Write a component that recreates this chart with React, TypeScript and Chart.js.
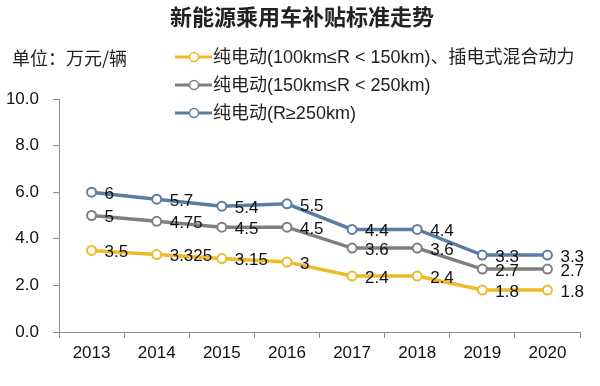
import React, { useEffect, useRef } from "react";
import { Chart, registerables } from "chart.js";

Chart.register(...registerables);

const TITLE = "新能源乘用车补贴标准走势";
const UNIT_LABEL = "单位：万元/辆";
const YEARS = ["2013", "2014", "2015", "2016", "2017", "2018", "2019", "2020"];
const SERIES_NAMES = [
  "纯电动(100km≤R < 150km)、插电式混合动力",
  "纯电动(150km≤R < 250km)",
  "纯电动(R≥250km)",
];
const BEV_100_150_PHEV = [3.5, 3.325, 3.15, 3, 2.4, 2.4, 1.8, 1.8];
const BEV_150_250 = [5, 4.75, 4.5, 4.5, 3.6, 3.6, 2.7, 2.7];
const BEV_250_PLUS = [6, 5.7, 5.4, 5.5, 4.4, 4.4, 3.3, 3.3];
const Y_MIN = 0;
const Y_MAX = 10;
const Y_STEP = 2;

const COLORS = ["#EDBB2A", "#7F7F7F", "#5B7DA3"];
const FONT = "'Liberation Sans', Arial, 'Noto Sans CJK SC', sans-serif";
const CJK_FONT = "'Noto Sans CJK SC', 'Liberation Sans', sans-serif";

const decorPlugin = {
  id: "decor",
  afterDatasetsDraw(chart: any) {
    const ctx = chart.ctx;
    ctx.save();
    // data labels
    ctx.font = `17px ${FONT}`;
    ctx.fillStyle = "#111";
    ctx.textAlign = "left";
    ctx.textBaseline = "middle";
    chart.data.datasets.forEach((ds: any, i: number) => {
      const meta = chart.getDatasetMeta(i);
      meta.data.forEach((pt: any, j: number) => {
        ctx.fillText(String(ds.data[j]), pt.x + 13, pt.y + 2);
      });
    });
    // title
    ctx.font = `bold 22px ${CJK_FONT}`;
    ctx.fillStyle = "#222";
    ctx.textAlign = "center";
    ctx.fillText(TITLE, 302, 17);
    // unit label
    ctx.font = `18px ${CJK_FONT}`;
    ctx.textAlign = "left";
    ctx.fillText(UNIT_LABEL, 12, 58);
    // legend
    const rows = [57, 85, 113];
    chart.data.datasets.forEach((ds: any, i: number) => {
      const y = rows[i];
      ctx.strokeStyle = COLORS[i];
      ctx.lineWidth = 3;
      ctx.beginPath();
      ctx.moveTo(175, y);
      ctx.lineTo(212, y);
      ctx.stroke();
      ctx.beginPath();
      ctx.arc(194, y, 4.5, 0, Math.PI * 2);
      ctx.fillStyle = "#fff";
      ctx.fill();
      ctx.lineWidth = 1.5;
      ctx.stroke();
      ctx.fillStyle = "#222";
      ctx.font = `18px ${FONT}`;
      ctx.fillText(ds.label, 213, y + 1);
    });
    ctx.restore();
  },
};

export default function App() {
  const ref = useRef<HTMLCanvasElement>(null);
  useEffect(() => {
    if (!ref.current) return;
    const series = [BEV_100_150_PHEV, BEV_150_250, BEV_250_PLUS];
    const chart = new Chart(ref.current, {
      type: "line",
      data: {
        labels: YEARS,
        datasets: series.map((d, i) => ({
          label: SERIES_NAMES[i],
          data: d,
          borderColor: COLORS[i],
          backgroundColor: "#ffffff",
          borderWidth: 3.5,
          pointRadius: 4.5,
          pointBorderWidth: 2,
          pointBorderColor: COLORS[i],
          pointBackgroundColor: "#ffffff",
          tension: 0,
        })),
      },
      options: {
        animation: false,
        responsive: false,
        layout: { padding: { top: 99, right: 20, left: 0, bottom: 0 } },
        plugins: {
          legend: { display: false },
          title: { display: false },
          tooltip: { enabled: false },
        },
        scales: {
          x: {
            offset: true,
            grid: {
              display: true,
              offset: true,
              drawOnChartArea: false,
              drawTicks: true,
              tickLength: 6,
              color: "#8c8c8c",
            },
            border: { display: true, color: "#8c8c8c", width: 1 },
            ticks: {
              color: "#111",
              font: { size: 17, family: FONT },
              padding: 5,
              maxRotation: 0,
            },
            afterFit: (scale: any) => {
              scale.height = 54;
            },
          },
          y: {
            min: Y_MIN,
            max: Y_MAX,
            grid: {
              display: true,
              drawOnChartArea: false,
              drawTicks: true,
              tickLength: 6,
              color: "#8c8c8c",
            },
            border: { display: true, color: "#8c8c8c", width: 1 },
            ticks: {
              stepSize: Y_STEP,
              color: "#111",
              font: { size: 17, family: FONT },
              padding: 14,
              callback: (v: any) => Number(v).toFixed(1),
            },
            afterFit: (scale: any) => {
              scale.width = 59;
            },
          },
        },
      },
      plugins: [decorPlugin],
    });
    return () => chart.destroy();
  }, []);
  return (
    <div style={{ position: "absolute", left: 0, top: 0, width: 600, height: 386, background: "#fff" }}>
      <canvas ref={ref} width={600} height={386} style={{ display: "block" }} />
    </div>
  );
}
